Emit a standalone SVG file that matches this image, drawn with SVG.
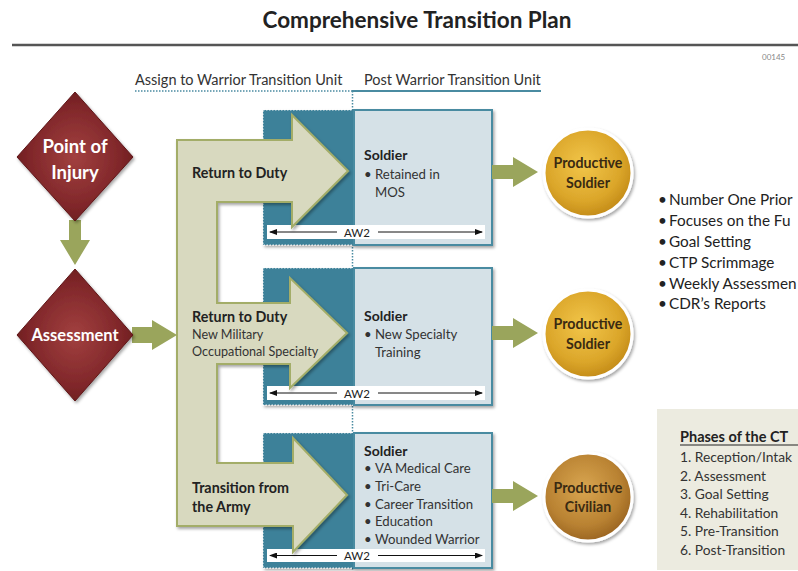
<svg xmlns="http://www.w3.org/2000/svg" width="798" height="571" viewBox="0 0 798 571">
<defs>
<style>
text{font-family:Lato,"Open Sans","Liberation Sans",sans-serif;fill:#222}
.b{font-weight:bold}
.hdr{font-size:14.5px;fill:#333}
.lbl{font-size:14.3px;font-weight:bold;fill:#222}
.sub{font-size:12.6px;fill:#333}
.bx{font-size:13.2px;fill:#333}
.bxh{font-size:14px;font-weight:bold;fill:#222}
.aw{font-size:11.5px;fill:#222}
.ct{font-size:14.2px;font-weight:bold;fill:#3a2a12;text-anchor:middle}
.dt{font-weight:bold;fill:#fff;text-anchor:middle}
.rl{font-size:15.3px;fill:#222}
.ph{font-size:13.8px;fill:#333}
.dark{fill:#3e8199}
.light{fill:#d5e1e7;stroke:#4a8ba1;stroke-width:2}
.dots{fill:none;stroke:#4a8ba1;stroke-width:1.5;stroke-dasharray:1.5 1.5}
.strip{fill:#fff}
.awl{stroke:#111;stroke-width:1;fill:none}
.grn{fill:#9aa55c}
</style>
<filter id="sh" x="-10%" y="-10%" width="130%" height="130%">
<feDropShadow dx="1.5" dy="2" stdDeviation="1.8" flood-color="#000" flood-opacity="0.35"/>
</filter>
<radialGradient id="dia" cx="50%" cy="50%" r="55%">
<stop offset="0" stop-color="#a2403f"/>
<stop offset="0.7" stop-color="#80272a"/>
<stop offset="1" stop-color="#6a1a1d"/>
</radialGradient>
<radialGradient id="gold" cx="45%" cy="40%" r="60%">
<stop offset="0" stop-color="#f2c64a"/>
<stop offset="0.7" stop-color="#dba62a"/>
<stop offset="1" stop-color="#c48c18"/>
</radialGradient>
<radialGradient id="bronze" cx="45%" cy="40%" r="60%">
<stop offset="0" stop-color="#d9a650"/>
<stop offset="0.7" stop-color="#b98232"/>
<stop offset="1" stop-color="#9c6622"/>
</radialGradient>
<marker id="ah" viewBox="0 0 8 6" refX="7" refY="3" markerWidth="8" markerHeight="6" orient="auto-start-reverse" markerUnits="userSpaceOnUse">
<path d="M0,0 L8,3 L0,6 Z" fill="#111"/>
</marker>
</defs>

<rect width="798" height="571" fill="#fff"/>

<g id="title">
<text x="417" y="28" class="b" style="font-size:22.5px" text-anchor="middle">Comprehensive Transition Plan</text>
<line x1="12" y1="45" x2="798" y2="45" stroke="#555" stroke-width="2.5"/>
<text x="762" y="60" style="font-size:8px;fill:#888">00145</text>
</g>

<g id="phase-headers">
<text x="135" y="85" class="hdr">Assign to Warrior Transition Unit</text>
<text x="364" y="85" class="hdr">Post Warrior Transition Unit</text>
<line x1="135" y1="91" x2="352" y2="91" class="dots"/>
<line x1="352" y1="91" x2="541" y2="91" stroke="#4a8ba1" stroke-width="2"/>
<line x1="352.5" y1="91" x2="352.5" y2="570" class="dots"/>
</g>

<g id="box1" filter="url(#sh)">
<rect x="263" y="110" width="91" height="135" class="dark"/>
<rect x="263" y="110" width="91" height="135" class="dots" stroke="#fff" style="stroke:#fff;stroke-opacity:0.6"/>
<rect x="354" y="110" width="138" height="135" class="light"/>
</g>
<g id="box2" filter="url(#sh)">
<rect x="263" y="268" width="91" height="137" class="dark"/>
<rect x="263" y="268" width="91" height="137" class="dots" style="stroke:#fff;stroke-opacity:0.6"/>
<rect x="354" y="268" width="138" height="137" class="light"/>
</g>
<g id="box3" filter="url(#sh)">
<rect x="263" y="433" width="91" height="135" class="dark"/>
<rect x="263" y="433" width="91" height="135" class="dots" style="stroke:#fff;stroke-opacity:0.6"/>
<rect x="354" y="433" width="138" height="135" class="light"/>
</g>

<g id="aw2-strips">
<rect x="267" y="225" width="218" height="14" class="strip"/>
<line x1="337" y1="232" x2="270" y2="232" class="awl" marker-end="url(#ah)"/>
<line x1="378" y1="232" x2="482" y2="232" class="awl" marker-end="url(#ah)"/>
<text x="357" y="236.5" class="aw" text-anchor="middle">AW2</text>
<rect x="267" y="386" width="218" height="14" class="strip"/>
<line x1="337" y1="393" x2="270" y2="393" class="awl" marker-end="url(#ah)"/>
<line x1="378" y1="393" x2="482" y2="393" class="awl" marker-end="url(#ah)"/>
<text x="357" y="397.5" class="aw" text-anchor="middle">AW2</text>
<rect x="267" y="549" width="218" height="13" class="strip"/>
<line x1="337" y1="555.5" x2="270" y2="555.5" class="awl" marker-end="url(#ah)"/>
<line x1="378" y1="555.5" x2="482" y2="555.5" class="awl" marker-end="url(#ah)"/>
<text x="357" y="560" class="aw" text-anchor="middle">AW2</text>
</g>

<g id="branch-arrows">
<path d="M177,140 L292,140 L292,115 L348,171 L292,227 L292,202 L217,202 L217,303 L290,303 L290,278 L347,333 L290,388 L290,364 L217,364 L217,463 L293,463 L293,438 L347,495 L293,552 L293,526 L177,526 Z" fill="#d8d9bf" stroke="#a3ad68" stroke-width="2" stroke-linejoin="miter" filter="url(#sh)"/>
<text x="192" y="178" class="lbl">Return to Duty</text>
<text x="192" y="322" class="lbl">Return to Duty</text>
<text x="192" y="339" class="sub">New Military</text>
<text x="192" y="356" class="sub">Occupational Specialty</text>
<text x="192" y="493" class="lbl">Transition from</text>
<text x="192" y="512" class="lbl">the Army</text>
</g>

<g id="box-texts">
<text x="364" y="160" class="bxh">Soldier</text>
<text x="364" y="179" class="bx">•</text><text x="375" y="179" class="bx">Retained in</text>
<text x="375" y="197" class="bx">MOS</text>

<text x="364" y="321" class="bxh">Soldier</text>
<text x="364" y="339" class="bx">•</text><text x="375" y="339" class="bx">New Specialty</text>
<text x="375" y="357" class="bx">Training</text>

<text x="364" y="456" class="bxh">Soldier</text>
<text x="364" y="473" class="bx">•</text><text x="375" y="473" class="bx">VA Medical Care</text>
<text x="364" y="491" class="bx">•</text><text x="375" y="491" class="bx">Tri-Care</text>
<text x="364" y="509" class="bx">•</text><text x="375" y="509" class="bx">Career Transition</text>
<text x="364" y="526" class="bx">•</text><text x="375" y="526" class="bx">Education</text>
<text x="364" y="544" class="bx">•</text><text x="375" y="544" class="bx">Wounded Warrior</text>
</g>

<g id="connectors">
<polygon points="69,220 81,220 81,240 90,240 75,265 60,240 69,240" class="grn"/>
<polygon points="132,327 152,327 152,320 177,335 152,350 152,343 132,343" class="grn"/>
<polygon points="492,165 513,165 513,157 538,172 513,187 513,179 492,179" class="grn"/>
<polygon points="492,326 513,326 513,318 538,333 513,348 513,340 492,340" class="grn"/>
<polygon points="492,489 513,489 513,481 538,496 513,511 513,503 492,503" class="grn"/>
</g>

<g id="point-of-injury">
<polygon points="75,92 133,157 75,221 17,157" fill="url(#dia)" stroke="#5e1518" stroke-width="1" filter="url(#sh)"/>
<text x="75" y="153" class="dt" style="font-size:18.5px">Point of</text>
<text x="75" y="179" class="dt" style="font-size:18.5px">Injury</text>
</g>

<g id="assessment">
<polygon points="75,269 133,335 75,401 17,335" fill="url(#dia)" stroke="#5e1518" stroke-width="1" filter="url(#sh)"/>
<text x="75" y="341" class="dt" style="font-size:16.5px">Assessment</text>
</g>

<g id="productive-soldier-1">
<circle cx="588" cy="173" r="44" fill="url(#gold)" stroke="#fff" stroke-width="3" filter="url(#sh)"/>
<text x="588" y="168" class="ct">Productive</text>
<text x="588" y="188" class="ct">Soldier</text>
</g>
<g id="productive-soldier-2">
<circle cx="588" cy="334" r="44" fill="url(#gold)" stroke="#fff" stroke-width="3" filter="url(#sh)"/>
<text x="588" y="329" class="ct">Productive</text>
<text x="588" y="349" class="ct">Soldier</text>
</g>
<g id="productive-civilian">
<circle cx="588" cy="497" r="44" fill="url(#bronze)" stroke="#fff" stroke-width="3" filter="url(#sh)"/>
<text x="588" y="493" class="ct">Productive</text>
<text x="588" y="512" class="ct">Civilian</text>
</g>

<g id="priorities">
<text x="658" y="205" class="rl">•</text><text x="669" y="205" class="rl">Number One Prior</text>
<text x="658" y="226" class="rl">•</text><text x="669" y="226" class="rl">Focuses on the Fu</text>
<text x="658" y="247" class="rl">•</text><text x="669" y="247" class="rl">Goal Setting</text>
<text x="658" y="268" class="rl">•</text><text x="669" y="268" class="rl">CTP Scrimmage</text>
<text x="658" y="289" class="rl">•</text><text x="669" y="289" class="rl">Weekly Assessmen</text>
<text x="658" y="309" class="rl">•</text><text x="669" y="309" class="rl">CDR’s Reports</text>
</g>

<g id="phases">
<rect x="657" y="409" width="145" height="161" fill="#ecebe0"/>
<text x="680" y="442" class="b" style="font-size:14.5px;fill:#222">Phases of the CT</text>
<line x1="680" y1="445" x2="798" y2="445" stroke="#222" stroke-width="1"/>
<text x="680" y="462" class="ph">1. Reception/Intak</text>
<text x="680" y="481" class="ph">2. Assessment</text>
<text x="680" y="499" class="ph">3. Goal Setting</text>
<text x="680" y="518" class="ph">4. Rehabilitation</text>
<text x="680" y="536" class="ph">5. Pre-Transition</text>
<text x="680" y="555" class="ph">6. Post-Transition</text>
</g>
</svg>
